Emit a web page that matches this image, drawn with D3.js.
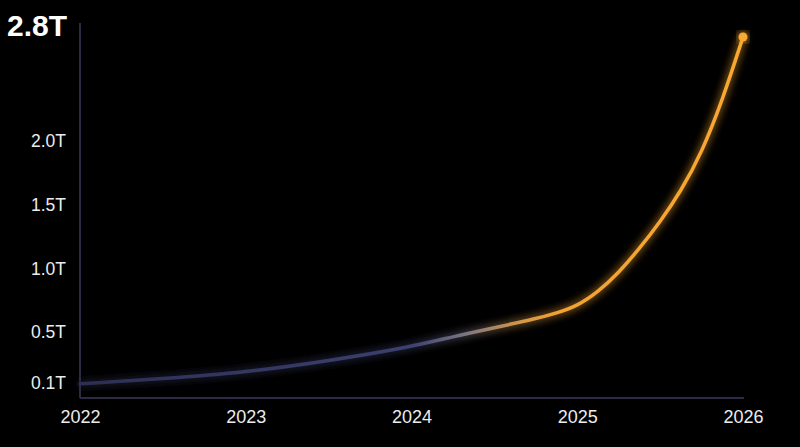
<!DOCTYPE html>
<html>
<head>
<meta charset="utf-8">
<script src="https://cdn.jsdelivr.net/npm/d3@7"></script>
<style>
  html, body { margin: 0; padding: 0; background: #000; }
  svg { display: block; }
  text { font-family: "Liberation Sans", Arial, Helvetica, sans-serif; }
</style>
</head>
<body>
<svg id="chart" width="800" height="447"></svg>
<script>
const years = [2022, 2022.5, 2023, 2023.5, 2024, 2024.25, 2024.5, 2024.75, 2024.875, 2025, 2025.125, 2025.25, 2025.375, 2025.5, 2025.625, 2025.75, 2025.875, 2026];
const values = [0.08, 0.12, 0.17, 0.26, 0.37, 0.45, 0.52, 0.59, 0.635, 0.69, 0.80, 0.95, 1.14, 1.35, 1.59, 1.89, 2.30, 2.80];
const yTicks = [0.1, 0.5, 1.0, 1.5, 2.0];
const yTickLabels = ["0.1T", "0.5T", "1.0T", "1.5T", "2.0T"];
const xTicks = [2022, 2023, 2024, 2025, 2026];
const xTickLabels = ["2022", "2023", "2024", "2025", "2026"];
const headline = "2.8T";

const svg = d3.select("#chart");
const W = 800, H = 447;
svg.append("rect").attr("width", W).attr("height", H).attr("fill", "#000");

const x = d3.scaleLinear().domain([2022, 2026]).range([80, 743]);
const y = d3.scaleLinear().domain([0, 2.8]).range([394, 37]);

const defs = svg.append("defs");
const grad = defs.append("linearGradient")
  .attr("id", "lineGrad")
  .attr("gradientUnits", "userSpaceOnUse")
  .attr("x1", x(2022)).attr("x2", x(2026)).attr("y1", 0).attr("y2", 0);
[
  [0, "#2d2e52"],
  [0.5, "#3c4070"],
  [0.58, "#7a7484"],
  [0.66, "#d0964a"],
  [0.72, "#f2a233"],
  [1, "#f9a830"]
].forEach(([o, c]) => grad.append("stop").attr("offset", o).attr("stop-color", c));

const glow = defs.append("filter").attr("id", "glow")
  .attr("x", "-20%").attr("y", "-20%").attr("width", "140%").attr("height", "140%");
glow.append("feGaussianBlur").attr("in", "SourceGraphic").attr("stdDeviation", 4).attr("result", "blur");
const merge = glow.append("feMerge");
merge.append("feMergeNode").attr("in", "blur");
merge.append("feMergeNode").attr("in", "SourceGraphic");

// axes lines
const axisColor = "#2c2b42";
svg.append("line")
  .attr("x1", x(2022)).attr("x2", x(2022))
  .attr("y1", 23).attr("y2", 398)
  .attr("stroke", axisColor).attr("stroke-width", 2);
svg.append("line")
  .attr("x1", x(2022)).attr("x2", x(2026) + 1)
  .attr("y1", 398).attr("y2", 398)
  .attr("stroke", axisColor).attr("stroke-width", 2);

// y axis labels
const yAxis = d3.axisLeft(y)
  .tickValues(yTicks)
  .tickFormat((d, i) => yTickLabels[i])
  .tickSize(0)
  .tickPadding(14);
const gy = svg.append("g").attr("transform", `translate(${x(2022)},2)`).call(yAxis);
gy.select(".domain").remove();
gy.selectAll("text")
  .attr("fill", "#ececec")
  .style("font-size", "17.5px")
  .style("font-family", '"Liberation Sans", Arial, sans-serif');

// x axis labels
const xAxis = d3.axisBottom(x)
  .tickValues(xTicks)
  .tickFormat((d, i) => xTickLabels[i])
  .tickSize(0)
  .tickPadding(12);
const gx = svg.append("g").attr("transform", `translate(0,398)`).call(xAxis);
gx.select(".domain").remove();
gx.selectAll("text")
  .attr("fill", "#ececec")
  .style("font-size", "18px")
  .style("font-family", '"Liberation Sans", Arial, sans-serif');

// headline
svg.append("text")
  .attr("x", 7).attr("y", 36)
  .attr("fill", "#ffffff")
  .style("font-size", "30px")
  .style("font-weight", "bold")
  .text(headline);

// line
const data = years.map((yr, i) => ({ yr, v: values[i] }));
const line = d3.line()
  .x(d => x(d.yr))
  .y(d => y(d.v))
  .curve(d3.curveBasis);

svg.append("path")
  .datum(data)
  .attr("d", line)
  .attr("fill", "none")
  .attr("stroke", "url(#lineGrad)")
  .attr("stroke-width", 3.5)
  .attr("stroke-linecap", "round")
  .attr("filter", "url(#glow)");

const last = data[data.length - 1];
svg.append("circle")
  .attr("cx", x(last.yr)).attr("cy", y(last.v))
  .attr("r", 4.5)
  .attr("fill", "#f9a830")
  .attr("filter", "url(#glow)");
</script>
</body>
</html>
